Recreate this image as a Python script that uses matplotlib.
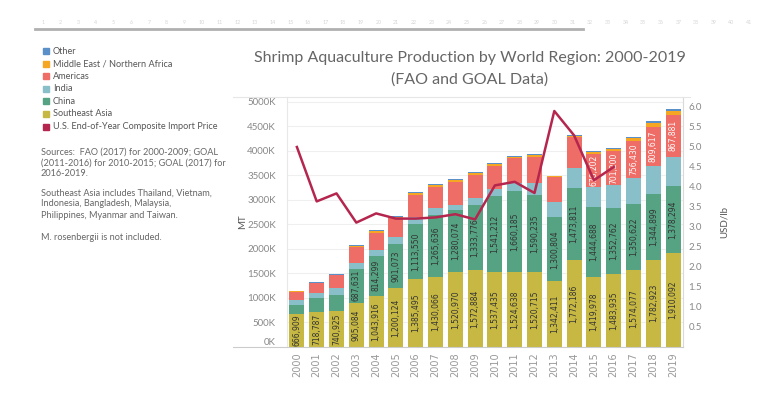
import numpy as np
import matplotlib
matplotlib.use('Agg')
import matplotlib.pyplot as plt
from matplotlib.patches import Rectangle
from matplotlib.lines import Line2D

# ---- data ----
years = [str(y) for y in range(2000, 2020)]
se_asia = [666909, 718787, 740925, 905084, 1043916, 1200124, 1385495, 1430066, 1520970, 1572884,
           1537435, 1524638, 1520715, 1342411, 1772186, 1419978, 1483935, 1574077, 1782923, 1910092]
china = [190000, 275000, 320000, 687631, 814299, 901073, 1113550, 1265636, 1280074, 1333776,
         1541212, 1660185, 1590235, 1300804, 1473811, 1444688, 1352762, 1350622, 1344899, 1378294]
india = [100000, 116000, 136000, 129000, 129000, 149000, 150000, 130000, 97000, 130000,
         146000, 165000, 229000, 315000, 410000, 390000, 460000, 525000, 555000, 585000]
americas = [170000, 190000, 266000, 313000, 340000, 381000, 456000, 442000, 476000, 476000,
            476000, 496000, 544000, 500000, 620000, 678202, 701200, 756430, 809617, 867881]
mena = [8000, 10000, 10000, 30000, 35000, 30000, 30000, 30000, 30000, 30000,
        30000, 35000, 35000, 25000, 35000, 45000, 45000, 55000, 70000, 70000]
other = [12000, 10000, 10000, 18000, 20000, 18000, 20000, 20000, 18000, 18000,
         18000, 20000, 20000, 15000, 20000, 25000, 25000, 30000, 40000, 40000]
price_years = years[:17]
price = [5.00, 3.64, 3.84, 3.11, 3.34, 3.21, 3.21, 3.24, 3.32, 3.19,
         4.04, 4.13, 3.85, 5.90, 5.29, 4.17, 4.50]

# which years carry a data label
china_label_from = 3
americas_label_from = 15

colors = {
    'Other': '#5b8fc7',
    'Middle East / Northern Africa': '#f5a623',
    'Americas': '#ee6d67',
    'India': '#88bfc8',
    'China': '#55a383',
    'Southeast Asia': '#c6b843',
    'U.S. End-of-Year Composite Import Price': '#b5264e',
}

W, H = 768, 395
fig = plt.figure(figsize=(W / 100, H / 100), dpi=100)
plt.rcParams['font.family'] = ['Lato', 'DejaVu Sans']


def fx(x):
    return x / W


def fy(y):
    return 1 - y / H


# plot area in pixels
left, right, top, bottom = 287, 683, 97, 347
ax = fig.add_axes([fx(left), fy(bottom), fx(right) - fx(left), fy(top) - fy(bottom)])

x = np.arange(len(years))
stack = [('Southeast Asia', se_asia), ('China', china), ('India', india),
         ('Americas', americas), ('Middle East / Northern Africa', mena), ('Other', other)]
base = np.zeros(len(years))
segs = {}
for name, vals in stack:
    vals = np.array(vals, dtype=float)
    ax.bar(x, vals, 0.76, bottom=base, color=colors[name], zorder=2)
    segs[name] = (base.copy(), vals)
    base += vals

lab_font = ['Liberation Sans Narrow', 'DejaVu Sans']
for i in range(len(years)):
    b, v = segs['Southeast Asia'][0][i], segs['Southeast Asia'][1][i]
    ax.text(i, b + v / 2, f"{int(v):,}", rotation=90, ha='center', va='center',
            fontsize=5.5, color='#333333', family=lab_font, zorder=3)
    if i >= china_label_from:
        b, v = segs['China'][0][i], segs['China'][1][i]
        ax.text(i, b + v / 2, f"{int(v):,}", rotation=90, ha='center', va='center',
                fontsize=5.5, color='#333333', family=lab_font, zorder=3)
    if i >= americas_label_from:
        b, v = segs['Americas'][0][i], segs['Americas'][1][i]
        ax.text(i, b + v / 2, f"{int(v):,}", rotation=90, ha='center', va='center',
                fontsize=5.5, color='white', family=lab_font, zorder=3)

ax.set_xlim(-0.5, len(years) - 0.5)
ax.set_ylim(0, 5100000)
yt = np.arange(0, 5000001, 500000)
ax.set_yticks(yt)
ax.set_yticklabels([f"{int(v / 1000)}K" for v in yt])
ax.yaxis.grid(True, color='#efefef', lw=0.8, zorder=0)
ax.set_axisbelow(True)
ax.tick_params(axis='y', length=0, labelsize=7, labelcolor='#888888', pad=8)
ax.get_yticklabels()[0].set_va('bottom')
ax.set_xticks(x)
ax.set_xticklabels(years, rotation=90, family='DejaVu Sans')
ax.tick_params(axis='x', length=0, labelsize=7, labelcolor='#999999', pad=4)
for s in ['top', 'bottom', 'right']:
    ax.spines[s].set_visible(False)
ax.spines['left'].set_color('#e8e8e8')

ax2 = ax.twinx()
ax2.plot(np.arange(len(price_years)), price, color=colors['U.S. End-of-Year Composite Import Price'],
         lw=1.8, zorder=4)
ax2.set_ylim(0, (bottom - top) / 40.0)
rt = np.arange(0.5, 6.01, 0.5)
ax2.set_yticks(rt)
ax2.set_yticklabels([f"{v:.1f}" for v in rt])
ax2.tick_params(axis='y', length=0, labelsize=7, labelcolor='#888888', pad=4)
for s in ['top', 'bottom', 'left']:
    ax2.spines[s].set_visible(False)
ax2.spines['right'].set_color('#d9d9d9')

# frame lines spanning under the axis labels
fig.add_artist(Line2D([fx(233), fx(690)], [fy(97), fy(97)], color='#e6e6e6', lw=0.8))
fig.add_artist(Line2D([fx(233), fx(683)], [fy(347), fy(347)], color='#cccccc', lw=0.8))

fig.text(fx(243), fy(222), 'MT', rotation=90, ha='center', va='center', fontsize=7, color='#555555')
fig.text(fx(724), fy(222), 'USD/lb', rotation=90, ha='center', va='center', fontsize=7, color='#555555')

# title
fig.text(fx(470), fy(58), 'Shrimp Aquaculture Production by World Region: 2000-2019',
         ha='center', va='center', fontsize=11.5, color='#666666')
fig.text(fx(470), fy(80), '(FAO and GOAL Data)', ha='center', va='center', fontsize=11.5,
         color='#666666')

# legend
legend_items = ['Other', 'Middle East / Northern Africa', 'Americas', 'India', 'China',
                'Southeast Asia', 'U.S. End-of-Year Composite Import Price']
for k, name in enumerate(legend_items):
    yy = 51 + k * 12.6
    fig.add_artist(Rectangle((fx(43), fy(yy + 3)), 6 / W, 6 / H, color=colors[name],
                             transform=fig.transFigure))
    fig.text(fx(53), fy(yy), name, ha='left', va='center', fontsize=6.6, color='#555555')

# notes
notes = [
    (152, 'Sources:  FAO (2017) for 2000-2009; GOAL'),
    (163, '(2011-2016) for 2010-2015; GOAL (2017) for'),
    (174, '2016-2019.'),
    (193, 'Southeast Asia includes Thailand, Vietnam,'),
    (204, 'Indonesia, Bangladesh, Malaysia,'),
    (215, 'Philippines, Myanmar and Taiwan.'),
    (238, 'M. rosenbergii is not included.'),
]
for yy, t in notes:
    fig.text(fx(41), fy(yy), t, ha='left', va='center', fontsize=6.6, color='#666666')

# faint ruler from the screenshot
for n in range(1, 42):
    fig.text(fx(43 + (n - 1) * 17.65), fy(22), str(n), ha='center', va='center',
             fontsize=3.8, color='#d5d5d5')
fig.add_artist(Line2D([fx(35), fx(583)], [fy(29), fy(29)], color='#b0b0b0', lw=2))

fig.savefig('out.png', dpi=100)
